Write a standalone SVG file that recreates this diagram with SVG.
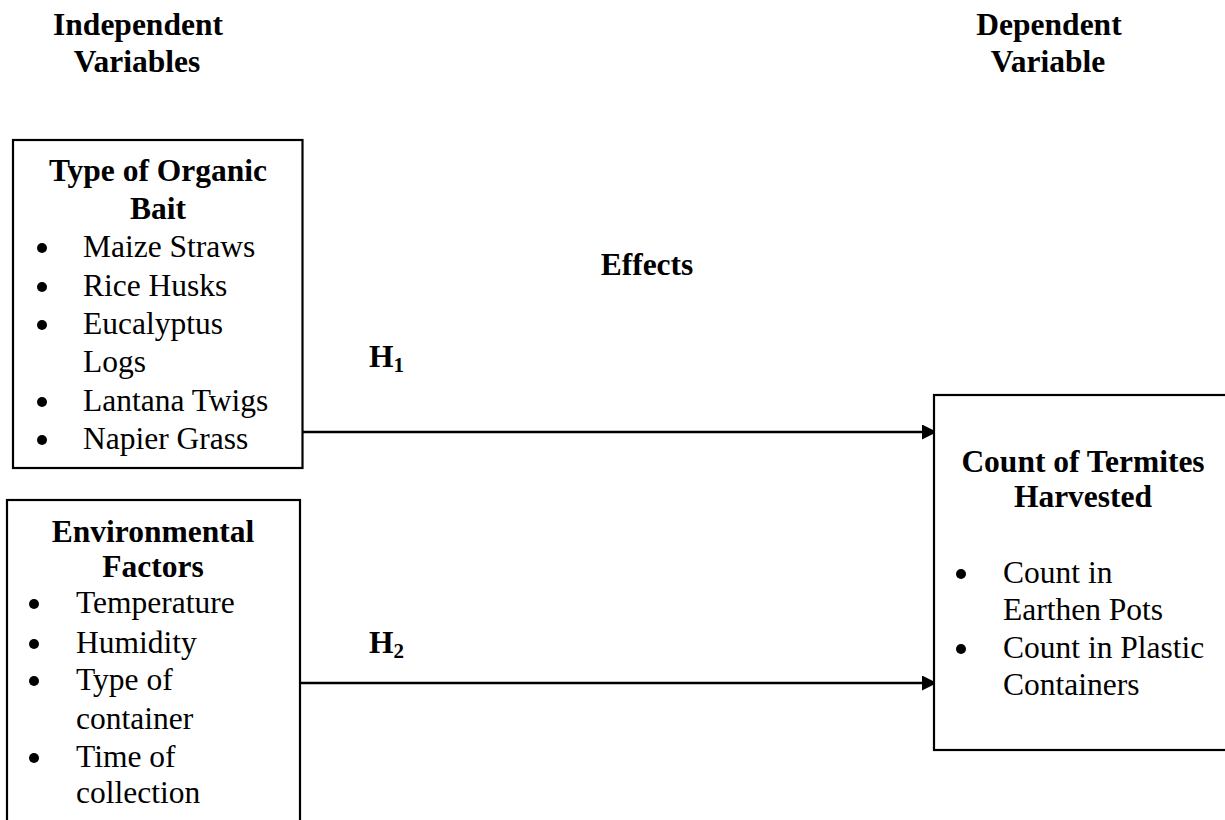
<svg xmlns="http://www.w3.org/2000/svg" width="1225" height="820" viewBox="0 0 1225 820">
<style>
text{font-family:"Liberation Serif","Times New Roman",serif;font-size:31.5px;fill:#000}
.b{font-weight:bold}
.c{text-anchor:middle}
.box{fill:#fff;stroke:#000;stroke-width:2.2}
.ln{stroke:#000;stroke-width:2.5;fill:none}
.dot{fill:#000}
</style>
<defs>
<marker id="ah" markerWidth="16" markerHeight="16" refX="15" refY="7.5" orient="auto" markerUnits="userSpaceOnUse">
<path d="M0,0 L15,7.5 L0,15 Z" fill="#000"/>
</marker>
</defs>
<rect width="1225" height="820" fill="#fff"/>
<g id="labels">
<text class="b c" x="138" y="35">Independent</text>
<text class="b c" x="137" y="72">Variables</text>
<text class="b c" x="1049" y="35">Dependent</text>
<text class="b c" x="1048" y="72">Variable</text>
<text class="b c" x="647" y="275">Effects</text>
<text class="b" x="369" y="367">H<tspan font-size="21" dy="5">1</tspan></text>
<text class="b" x="369" y="653">H<tspan font-size="21" dy="5">2</tspan></text>
</g>
<g id="connectors">
<line class="ln" x1="299" y1="432" x2="937" y2="432" marker-end="url(#ah)"/>
<line class="ln" x1="300" y1="683" x2="937" y2="683" marker-end="url(#ah)"/>
</g>
<g id="organic-bait">
<rect class="box" x="13" y="140" width="289.5" height="328"/>
<text class="b c" x="158" y="181">Type of Organic</text>
<text class="b c" x="158" y="219">Bait</text>
<circle class="dot" cx="42" cy="248" r="5"/><text x="83" y="257">Maize Straws</text>
<circle class="dot" cx="42" cy="287" r="5"/><text x="83" y="296">Rice Husks</text>
<circle class="dot" cx="42" cy="325" r="5"/><text x="83" y="334">Eucalyptus</text>
<text x="83" y="372">Logs</text>
<circle class="dot" cx="42" cy="402" r="5"/><text x="83" y="411">Lantana Twigs</text>
<circle class="dot" cx="42" cy="440" r="5"/><text x="83" y="449">Napier Grass</text>
</g>
<g id="environmental-factors">
<rect class="box" x="7" y="500" width="293" height="340"/>
<text class="b c" x="153" y="542">Environmental</text>
<text class="b c" x="153" y="577">Factors</text>
<circle class="dot" cx="34" cy="604" r="5"/><text x="76" y="613">Temperature</text>
<circle class="dot" cx="34" cy="644" r="5"/><text x="76" y="653">Humidity</text>
<circle class="dot" cx="34" cy="681" r="5"/><text x="76" y="690">Type of</text>
<text x="76" y="729">container</text>
<circle class="dot" cx="34" cy="758" r="5"/><text x="76" y="767">Time of</text>
<text x="76" y="803">collection</text>
</g>
<g id="termites-harvested">
<rect class="box" x="934" y="395" width="320" height="355"/>
<text class="b c" x="1083" y="472">Count of Termites</text>
<text class="b c" x="1083" y="507">Harvested</text>
<circle class="dot" cx="961" cy="574" r="5"/><text x="1003" y="583">Count in</text>
<text x="1003" y="620">Earthen Pots</text>
<circle class="dot" cx="961" cy="649" r="5"/><text x="1003" y="658">Count in Plastic</text>
<text x="1003" y="695">Containers</text>
</g>
</svg>
